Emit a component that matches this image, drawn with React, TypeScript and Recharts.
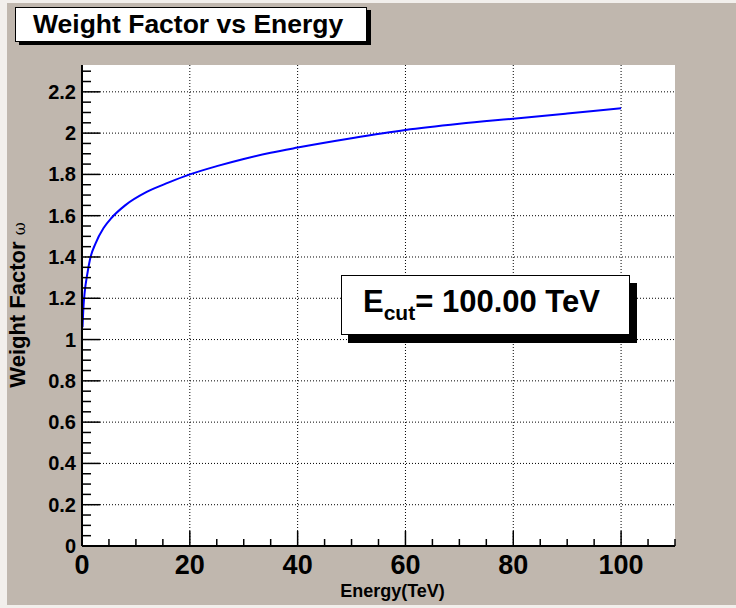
import React from 'react';
import { CartesianGrid, Line, LineChart, ReferenceLine, XAxis, YAxis } from 'recharts';

const FONT = '"Liberation Sans", Arial, Helvetica, sans-serif';

// Energy (TeV) and weight factor
const energy = [0.1, 0.3, 0.5, 1, 1.5, 2.5, 4, 5.5, 8, 12, 16, 20, 25, 30, 35, 40, 50, 60, 70, 80, 90, 100];
const weight = [
  1.06, 1.17, 1.23, 1.32, 1.39, 1.465, 1.54, 1.59, 1.65, 1.715, 1.76, 1.8, 1.84, 1.875, 1.905, 1.93, 1.975,
  2.015, 2.045, 2.07, 2.095, 2.12,
];

const xLabels = [0, 20, 40, 60, 80, 100];
const yLabels = [0, 0.2, 0.4, 0.6, 0.8, 1, 1.2, 1.4, 1.6, 1.8, 2, 2.2];
const xTicks = Array.from({ length: 23 }, (_, i) => i * 5);
const yTicks = Array.from({ length: 47 }, (_, i) => (i * 5) / 100);

const data = energy.map((e, i) => ({ e, w: weight[i] }));

function XTick({ x, y, payload }: any) {
  const v = payload.value as number;
  const major = xLabels.includes(v);
  return (
    <g>
      <line x1={x} x2={x} y1={y} y2={y - (major ? 15 : 7)} stroke="#000" strokeWidth={1.5} />
      {major && (
        <text x={x} y={y + 28} textAnchor="middle" fontSize={27} fontWeight="bold" fontFamily={FONT} fill="#000">
          {v}
        </text>
      )}
    </g>
  );
}

function YTick({ x, y, payload }: any) {
  const v = payload.value as number;
  const major = yLabels.includes(v);
  return (
    <g>
      <line x1={x} x2={x + (major ? 18 : 9)} y1={y} y2={y} stroke="#000" strokeWidth={1.5} />
      {major && (
        <text x={x - 6} y={y + 7} textAnchor="end" fontSize={20} fontWeight="bold" fontFamily={FONT} fill="#000">
          {v}
        </text>
      )}
    </g>
  );
}

export default function App() {
  return (
    <div style={{ position: 'absolute', left: 0, top: 0, width: 736, height: 608, background: '#f2efec' }}>
      <div style={{ position: 'absolute', left: 7, top: 3, width: 729, height: 602, background: '#c0b7ae' }} />
      <div style={{ position: 'absolute', left: 0, top: 0 }}>
        <LineChart width={736} height={608} data={data} margin={{ top: 65, right: 61, left: 0, bottom: 0 }}>
          <CartesianGrid horizontal={false} vertical={false} fill="#ffffff" />
          {xLabels.slice(1).map((v) => (
            <ReferenceLine key={'x' + v} x={v} stroke="#000" strokeDasharray="1 2" strokeWidth={1} />
          ))}
          {yLabels.slice(1).map((v) => (
            <ReferenceLine key={'y' + v} y={v} stroke="#000" strokeDasharray="1 2" strokeWidth={1} />
          ))}
          <XAxis
            dataKey="e"
            type="number"
            domain={[0, 110]}
            ticks={xTicks}
            interval={0}
            tick={<XTick />}
            tickLine={false}
            tickSize={0}
            tickMargin={0}
            height={62}
            allowDataOverflow
            axisLine={{ stroke: '#000', strokeWidth: 2 }}
            label={{
              content: ({ viewBox }: any) => (
                <text
                  x={viewBox.x + viewBox.width / 2 + 14}
                  y={viewBox.y + 51}
                  textAnchor="middle"
                  fontSize={18}
                  fontWeight="bold"
                  fontFamily={FONT}
                  fill="#000"
                >
                  Energy(TeV)
                </text>
              ),
            }}
          />
          <XAxis
            xAxisId="top"
            orientation="top"
            type="number"
            domain={[0, 110]}
            height={0}
            tick={false}
            tickLine={false}
            axisLine={{ stroke: '#333', strokeWidth: 1.5 }}
          />
          <YAxis
            type="number"
            domain={[0, 2.33]}
            ticks={yTicks}
            interval={0}
            tick={<YTick />}
            tickLine={false}
            tickSize={0}
            tickMargin={0}
            width={82}
            allowDataOverflow
            axisLine={{ stroke: '#000', strokeWidth: 2 }}
            label={{
              content: () => (
                <text
                  transform="translate(25,305) rotate(-90)"
                  textAnchor="middle"
                  fontSize={22}
                  fontWeight="bold"
                  fontFamily={FONT}
                  fill="#000"
                >
                  Weight Factor{' '}
                  <tspan fontWeight="normal" fontSize={16} fontFamily='"DejaVu Serif", serif'>
                    ω
                  </tspan>
                </text>
              ),
            }}
          />
          <YAxis
            yAxisId="right"
            orientation="right"
            type="number"
            domain={[0, 2.33]}
            width={0}
            tick={false}
            tickLine={false}
            axisLine={{ stroke: '#333', strokeWidth: 1.5 }}
          />
          <Line
            type="monotone"
            dataKey="w"
            stroke="#0000ff"
            strokeWidth={2}
            dot={false}
            isAnimationActive={false}
          />
        </LineChart>
      </div>
      {/* title box */}
      <div
        style={{
          position: 'absolute',
          left: 15,
          top: 7,
          width: 350,
          height: 33,
          background: '#fff',
          border: '1px solid #000',
          boxShadow: '4px 3px 0 #000',
        }}
      >
        <div
          style={{
            position: 'absolute',
            left: 17,
            top: 3,
            fontFamily: FONT,
            fontWeight: 'bold',
            fontSize: 26.5,
            lineHeight: '26.5px',
            whiteSpace: 'nowrap',
          }}
        >
          Weight Factor vs Energy
        </div>
      </div>
      {/* cut energy box */}
      <div
        style={{
          position: 'absolute',
          left: 341,
          top: 275,
          width: 287,
          height: 58,
          background: '#fff',
          border: '1px solid #000',
          boxShadow: '7px 8px 0 #000',
        }}
      >
        <div
          style={{
            position: 'absolute',
            left: 21,
            top: 10,
            fontFamily: FONT,
            fontWeight: 'bold',
            fontSize: 31,
            lineHeight: '31px',
            whiteSpace: 'nowrap',
          }}
        >
          E<span style={{ fontSize: 21, position: 'relative', top: 8 }}>cut</span>= 100.00 TeV
        </div>
      </div>
    </div>
  );
}
